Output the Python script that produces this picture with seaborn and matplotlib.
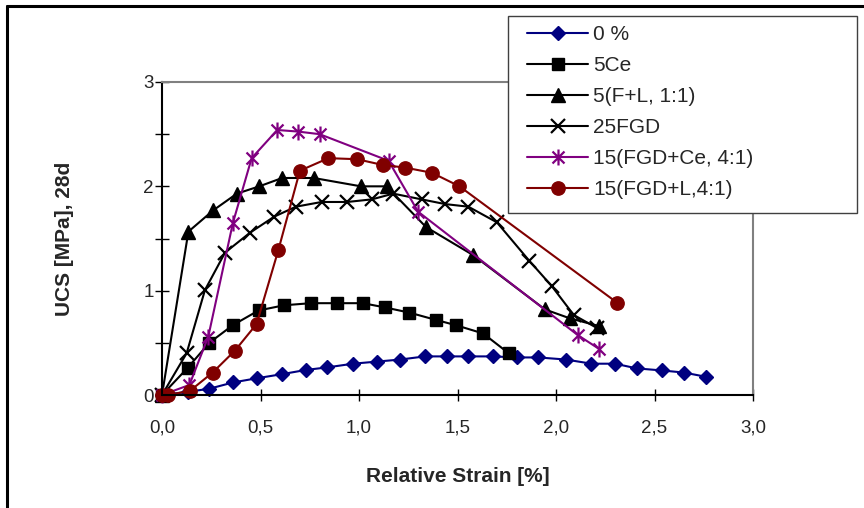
import matplotlib
matplotlib.use("Agg")
import matplotlib.pyplot as plt
import seaborn as sns
from matplotlib.path import Path
from matplotlib.patches import Rectangle
from matplotlib.lines import Line2D
from matplotlib.ticker import MultipleLocator, FuncFormatter

# ---------------- data ----------------
series_names = ["0 %", "5Ce", "5(F+L, 1:1)", "25FGD", "15(FGD+Ce, 4:1)", "15(FGD+L,4:1)"]

x_0pct = [0.0, 0.13, 0.24, 0.36, 0.48, 0.61, 0.73, 0.84, 0.97, 1.09, 1.21, 1.335,
          1.445, 1.555, 1.68, 1.80, 1.91, 2.05, 2.18, 2.30, 2.41, 2.54, 2.65, 2.76]
y_0pct = [0.0, 0.03, 0.06, 0.12, 0.16, 0.20, 0.24, 0.265, 0.30, 0.32, 0.34, 0.37,
          0.37, 0.37, 0.37, 0.36, 0.36, 0.34, 0.30, 0.30, 0.255, 0.235, 0.215, 0.175]

x_5ce = [0.0, 0.13, 0.24, 0.36, 0.49, 0.62, 0.755, 0.89, 1.02, 1.13, 1.255, 1.39, 1.49, 1.63, 1.76]
y_5ce = [0.0, 0.26, 0.50, 0.67, 0.81, 0.86, 0.88, 0.88, 0.88, 0.84, 0.79, 0.72, 0.67, 0.59, 0.40]

x_fl = [0.0, 0.134, 0.26, 0.38, 0.494, 0.61, 0.77, 1.01, 1.14, 1.34, 1.58, 1.944, 2.07, 2.22]
y_fl = [0.0, 1.566, 1.77, 1.93, 2.00, 2.08, 2.08, 2.00, 2.00, 1.61, 1.34, 0.82, 0.735, 0.66]

x_fgd = [0.0, 0.125, 0.218, 0.32, 0.447, 0.57, 0.68, 0.81, 0.94, 1.065, 1.174, 1.318,
         1.437, 1.555, 1.70, 1.865, 1.978, 2.09, 2.21]
y_fgd = [0.0, 0.40, 1.006, 1.365, 1.556, 1.71, 1.805, 1.85, 1.85, 1.875, 1.93, 1.875,
         1.83, 1.805, 1.655, 1.285, 1.045, 0.767, 0.64]

x_fgdce = [0.0, 0.139, 0.235, 0.36, 0.455, 0.585, 0.69, 0.80, 1.15, 1.30, 2.11, 2.22]
y_fgdce = [0.0, 0.096, 0.56, 1.65, 2.27, 2.54, 2.525, 2.50, 2.245, 1.757, 0.575, 0.44]

x_fgdl = [0.0, 0.03, 0.142, 0.257, 0.37, 0.48, 0.59, 0.70, 0.845, 0.99, 1.12, 1.233, 1.37, 1.51, 2.31]
y_fgdl = [0.0, 0.0, 0.04, 0.215, 0.425, 0.68, 1.385, 2.15, 2.27, 2.26, 2.205, 2.18, 2.13, 2.00, 0.885]

x_ticks = [0.0, 0.5, 1.0, 1.5, 2.0, 2.5, 3.0]
y_tick_labels = [0, 1, 2, 3]

# ---------------- style ----------------
sns.set_theme(style="white")
plt.rcParams["font.family"] = ["Liberation Sans", "DejaVu Sans"]

star = Path([(0, -1), (0, 1), (-0.75, -0.75), (0.75, 0.75), (-0.75, 0.75), (0.75, -0.75)],
            [Path.MOVETO, Path.LINETO] * 3)

styles = [
    dict(color="#000080", marker="D", markersize=7.0, mfc="#000080"),
    dict(color="black", marker="s", markersize=9.0, mfc="black"),
    dict(color="black", marker="^", markersize=10, mfc="black"),
    dict(color="black", marker="x", markersize=10, mfc="black", mew=1.6),
    dict(color="#800080", marker=star, markersize=11.5, mfc="none", mew=1.6),
    dict(color="#800000", marker="o", markersize=9.6, mfc="#800000"),
]
data = [(x_0pct, y_0pct), (x_5ce, y_5ce), (x_fl, y_fl), (x_fgd, y_fgd),
        (x_fgdce, y_fgdce), (x_fgdl, y_fgdl)]

fig = plt.figure(figsize=(8.64, 5.08), dpi=100)
ax = fig.add_axes([162 / 864, 1 - 395 / 508, (753 - 162) / 864, (395 - 82) / 508])

for name, (xs, ys), st in zip(series_names, data, styles):
    sns.lineplot(x=xs, y=ys, ax=ax, estimator=None, sort=False, legend=False,
                 color=st["color"], marker=st["marker"], markersize=st["markersize"],
                 markerfacecolor=st["mfc"], markeredgecolor=st["color"],
                 markeredgewidth=st.get("mew", 1.0), linewidth=1.5,
                 label=name, clip_on=False)

ax.set_xlim(0, 3)
ax.set_ylim(0, 3)
ax.set_xticks(x_ticks)
ax.xaxis.set_major_formatter(FuncFormatter(lambda v, p: f"{v:.1f}".replace(".", ",")))
ax.yaxis.set_major_locator(MultipleLocator(0.5))
ax.yaxis.set_major_formatter(FuncFormatter(
    lambda v, p: f"{int(round(v))}" if abs(v - round(v)) < 1e-6 and int(round(v)) in y_tick_labels else ""))

ax.tick_params(axis="x", direction="inout", length=9, width=1.0, pad=13, labelsize=13.5, color="black")
ax.tick_params(axis="y", direction="inout", length=10, width=1.0, pad=1, labelsize=13.5, color="black")
ax.tick_params(left=True, bottom=True)

for s in ["left", "bottom"]:
    ax.spines[s].set_color("black")
    ax.spines[s].set_linewidth(1.5)
for s in ["top", "right"]:
    ax.spines[s].set_color("#808080")
    ax.spines[s].set_linewidth(1.5)

ax.set_xlabel("Relative Strain [%]", fontsize=15, fontweight="bold")
ax.set_ylabel("UCS [MPa], 28d", fontsize=15, fontweight="bold")
ax.xaxis.set_label_coords(0.5, (395 - 477) / 313)
ax.xaxis.label.set_va("center")
ax.yaxis.set_label_coords((65 - 162) / 591, 0.5)
ax.yaxis.label.set_va("center")

# legend with Excel-like frame
fig.add_artist(Rectangle((508 / 864, 1 - 213 / 508), (857 - 508) / 864, (213 - 16) / 508,
                         transform=fig.transFigure, facecolor="white",
                         edgecolor="#404040", linewidth=1.0))
handles, labels = ax.get_legend_handles_labels()
fig.legend(handles, labels, loc="upper left", bbox_to_anchor=(527 / 864, 1 - 25 / 508),
           frameon=False, borderpad=0, borderaxespad=0, handlelength=2.93,
           handletextpad=0.24, labelspacing=0.58, fontsize=15)

# outer figure border (top and left)
fig.add_artist(Line2D([7 / 864, 1.0], [1 - 6 / 508, 1 - 6 / 508], transform=fig.transFigure,
                      color="black", linewidth=2.2))
fig.add_artist(Line2D([7 / 864, 7 / 864], [0, 1 - 6 / 508], transform=fig.transFigure,
                      color="black", linewidth=2.2))

fig.savefig("out.png", dpi=100)
